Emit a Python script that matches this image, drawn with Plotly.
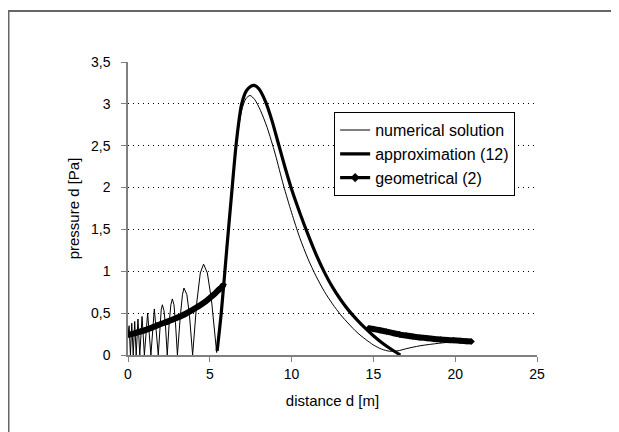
import plotly.graph_objects as go

# numerical solution (thin line): oscillating part and main pulse
num_osc_x = [0, 0.07, 0.15, 0.23, 0.32, 0.41, 0.5, 0.61, 0.72, 0.86, 1.0, 1.2, 1.4, 1.61, 1.85,
             1.96, 2.03, 2.10, 2.2, 2.29, 2.4,
             2.52, 2.62, 2.71, 2.81, 2.9, 3.02,
             3.2, 3.33, 3.42, 3.6, 3.76, 3.95,
             4.2, 4.42, 4.62, 4.85, 5.1, 5.25, 5.42]
num_osc_y = [0.25, 0.35, 0.0, 0.38, 0.0, 0.40, 0.0, 0.43, 0.0, 0.46, 0.0, 0.50, 0.0, 0.55, 0.0,
             0.35, 0.54, 0.60, 0.53, 0.35, 0.0,
             0.39, 0.60, 0.67, 0.60, 0.39, 0.0,
             0.47, 0.72, 0.80, 0.72, 0.47, 0.0,
             0.62, 0.98, 1.085, 0.98, 0.66, 0.40, 0.03]
num_pulse_x = [5.42, 5.7, 6.03, 6.3, 6.64, 6.95, 7.2, 7.46, 7.75, 8.1, 8.5, 9.0, 9.5, 10.0,
               10.5, 11.0, 11.5, 12.0, 12.5, 13.0, 13.5, 14.0, 14.5, 15.0, 15.5, 16.0, 16.5,
               17.0, 17.85, 19.0, 20.0, 21.0]
num_pulse_y = [0.03, 0.50, 1.25, 1.85, 2.55, 2.92, 3.06, 3.10, 3.05, 2.92, 2.72, 2.40, 2.03, 1.70,
               1.40, 1.15, 0.94, 0.76, 0.61, 0.48, 0.37, 0.27, 0.19, 0.12, 0.07, 0.045, 0.05,
               0.075, 0.11, 0.14, 0.16, 0.175]

# approximation (12) (thick line)
app_x = [5.45, 5.7, 6.03, 6.3, 6.64, 6.95, 7.25, 7.5, 7.72, 8.0, 8.4, 8.8, 9.2, 9.6, 10.0,
         10.5, 11.0, 11.5, 12.0, 12.5, 13.0, 13.5, 14.0, 14.5, 15.0, 15.5, 16.0, 16.4, 16.65]
app_y = [0.05, 0.50, 1.25, 1.85, 2.57, 3.0, 3.16, 3.21, 3.22, 3.18, 3.03, 2.80, 2.52, 2.24, 1.98,
         1.70, 1.44, 1.20, 0.99, 0.81, 0.66, 0.53, 0.42, 0.32, 0.23, 0.15, 0.08, 0.03, 0.0]

# geometrical (2) (thick line with dense markers, two branches)
geo_x = [0, 0.25, 0.5, 0.75, 1.0, 1.25, 1.5, 1.75, 2.0, 2.25, 2.5, 2.75, 3.0, 3.25, 3.5,
         3.75, 4.0, 4.25, 4.5, 4.75, 5.0, 5.25, 5.5, 5.7, 5.85,
         None,
         14.7, 15.0, 15.4, 15.8, 16.2, 16.6, 17.0, 17.4, 17.85, 18.3, 18.7, 19.1,
         19.5, 19.9, 20.3, 20.7, 21.0]
geo_y = [0.24, 0.252, 0.265, 0.28, 0.295, 0.312, 0.33, 0.35, 0.37, 0.387, 0.405, 0.425,
         0.445, 0.467, 0.49, 0.517, 0.545, 0.575, 0.605, 0.64, 0.68, 0.722, 0.77, 0.805, 0.84,
         None,
         0.32, 0.31, 0.295, 0.28, 0.262, 0.245, 0.232, 0.22, 0.21, 0.2, 0.192, 0.186,
         0.18, 0.175, 0.17, 0.165, 0.162]

x_ticks = [0, 5, 10, 15, 20, 25]
y_ticks = [0, 0.5, 1, 1.5, 2, 2.5, 3, 3.5]

FONT = "Liberation Sans, Arial, sans-serif"

fig = go.Figure()
fig.add_trace(go.Scatter(x=num_osc_x, y=num_osc_y, mode="lines", name="numerical solution",
                         legendgroup="num", line=dict(color="black", width=1)))
fig.add_trace(go.Scatter(x=num_pulse_x, y=num_pulse_y, mode="lines", name="numerical solution",
                         legendgroup="num", showlegend=False,
                         line=dict(color="black", width=1, shape="spline", smoothing=0.8)))
fig.add_trace(go.Scatter(x=app_x, y=app_y, mode="lines", name="approximation (12)",
                         line=dict(color="black", width=3.2, shape="spline", smoothing=0.8)))
fig.add_trace(go.Scatter(x=geo_x, y=geo_y, mode="lines+markers", name="geometrical (2)",
                         legendgroup="geo", showlegend=False,
                         line=dict(color="black", width=6, shape="spline", smoothing=0.6),
                         marker=dict(symbol="diamond", size=5, color="black")))
fig.add_trace(go.Scatter(x=[None], y=[None], mode="lines+markers", name="geometrical (2)",
                         legendgroup="geo",
                         line=dict(color="black", width=3.2),
                         marker=dict(symbol="diamond", size=7, color="black")))

fig.update_layout(
    width=619, height=432,
    margin=dict(l=120, r=90, t=54, b=85),
    paper_bgcolor="white", plot_bgcolor="white",
    separators=", ",
    font=dict(family=FONT, size=14, color="black"),
    showlegend=True,
    legend=dict(x=0.504, y=0.829, xanchor="left", yanchor="top",
                bgcolor="white", bordercolor="black", borderwidth=1,
                font=dict(size=16), tracegroupgap=0, itemwidth=30),
    shapes=[dict(type="rect", xref="paper", yref="paper",
                 x0=-0.2922, x1=1.3, y0=-0.4, y1=1.174,
                 line=dict(color="#666666", width=2), layer="below")],
)
fig.update_xaxes(range=[0, 25], tickvals=x_ticks, showgrid=False, zeroline=False,
                 showline=True, linecolor="#808080", linewidth=1.5,
                 ticks="outside", ticklen=5, tickcolor="#808080",
                 title=dict(text="distance d [m]", font=dict(size=15), standoff=15))
fig.update_yaxes(range=[0, 3.5], tickvals=y_ticks, showgrid=True, gridcolor="black",
                 gridwidth=1, griddash="1px,4px", zeroline=False,
                 showline=True, linecolor="#808080", linewidth=1.5,
                 ticks="outside", ticklen=5, tickcolor="#808080", ticklabelstandoff=8,
                 title=dict(text="pressure d [Pa]", font=dict(size=15), standoff=8))

fig.write_html("out.html")
